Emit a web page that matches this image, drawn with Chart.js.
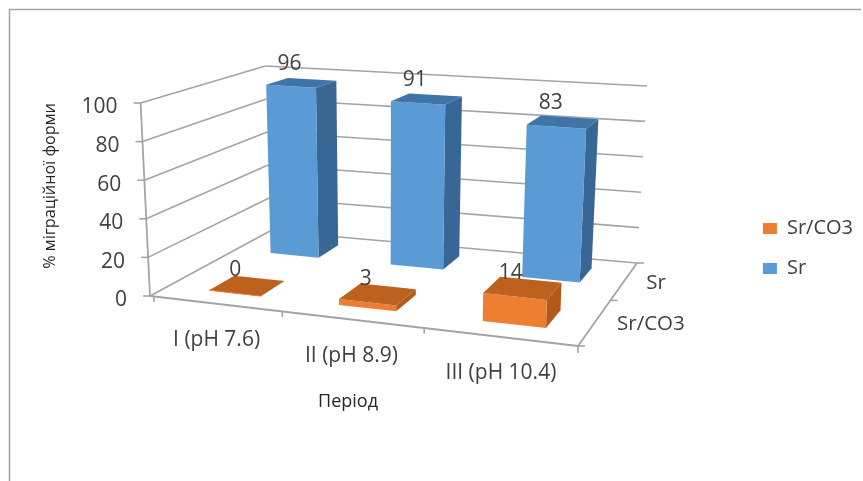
<!DOCTYPE html>
<html lang="uk">
<head>
<meta charset="utf-8">
<title>% міграційної форми</title>
<script src="https://cdn.jsdelivr.net/npm/chart.js@4"></script>
<style>
  html, body { margin: 0; padding: 0; background: #fff; }
  #wrap { position: relative; width: 863px; height: 481px; overflow: hidden; }
  canvas { display: block; }
</style>
</head>
<body>
<div id="wrap"><canvas id="chart" width="863" height="481"></canvas></div>
<script>
// ================= Data =================
const periods = ['I (pH 7.6)', 'II (pH 8.9)', 'III (pH 10.4)'];
const seriesNames = ['Sr/CO3', 'Sr'];
const srCo3Values = [0, 3, 14];
const srValues = [96, 91, 83];
const yTicksMax = 100;
const yTicksStep = 20;
const yTitle = '% міграційної форми';
const xTitle = 'Період';

// ================= Style =================
const FONT = '"Open Sans", sans-serif';
const TEXT = '#404040';
const GRID = '#a4a4a4';
const ORANGE = { front: '#ed7d31', top: '#bd611f', side: '#b3591a' };
const BLUE = { front: '#5b9bd5', top: '#3f74a8', side: '#386795' };

// ================= 3D box: floor corners, wall height at each corner, lean of the verticals =================
const floorQuad = [[150, 296], [578, 346], [637, 263], [270, 231]];
const cornerHeights = [193, 206, 177, 165];
const leanCenterX = 385;
const leanPerPx = 0.04;
const depthShift = [-0.015, 0.025];
const rowShift = [0.012, 0.005];

function makeHomography(q) {
  const [p0, p1, p2, p3] = q;
  const dx1 = p1[0] - p2[0], dx2 = p3[0] - p2[0], sx = p0[0] - p1[0] + p2[0] - p3[0];
  const dy1 = p1[1] - p2[1], dy2 = p3[1] - p2[1], sy = p0[1] - p1[1] + p2[1] - p3[1];
  const det = dx1 * dy2 - dx2 * dy1;
  const g = (sx * dy2 - dx2 * sy) / det;
  const h = (dx1 * sy - sx * dy1) / det;
  const a = p1[0] - p0[0] + g * p1[0], b = p3[0] - p0[0] + h * p3[0];
  const d = p1[1] - p0[1] + g * p1[1], e = p3[1] - p0[1] + h * p3[1];
  return (u, v) => {
    const w = g * u + h * v + 1;
    return [(a * u + b * v + p0[0]) / w, (d * u + e * v + p0[1]) / w];
  };
}
const floorH = makeHomography(floorQuad);

// u: along categories, v: depth (0 front, 1 back), t: height (0 floor, 1 axis max)
function project(u, v, t) {
  const p = floorH(u, v);
  const [h0, h1, h2, h3] = cornerHeights;
  const front = h0 + (h1 - h0) * u, back = h3 + (h2 - h3) * u;
  const height = front + (back - front) * v;
  return [p[0] + (p[0] - leanCenterX) * leanPerPx * t, p[1] - height * t];
}

function poly(ctx, pts, fill) {
  ctx.beginPath();
  pts.forEach((p, i) => i ? ctx.lineTo(p[0], p[1]) : ctx.moveTo(p[0], p[1]));
  ctx.closePath();
  ctx.fillStyle = fill;
  ctx.fill();
}

function seg(ctx, a, b, color, width) {
  ctx.beginPath();
  ctx.moveTo(a[0], a[1]);
  ctx.lineTo(b[0], b[1]);
  ctx.strokeStyle = color;
  ctx.lineWidth = width;
  ctx.stroke();
}

function text(ctx, str, x, y, size, align, color) {
  ctx.font = size + 'px ' + FONT;
  ctx.fillStyle = color || TEXT;
  ctx.textAlign = align || 'center';
  ctx.textBaseline = 'middle';
  ctx.fillText(str, x, y);
}

function depthCenter(d) {
  return (d + 0.5) / seriesNames.length + depthShift[d];
}

// ================= Walls, axes and bars, all placed from the chart's own scales =================
const box3d = {
  id: 'box3d',
  beforeDatasetsDraw(chart) {
    const { ctx, chartArea, scales } = chart;
    const area = chartArea;
    ctx.save();
    ctx.lineCap = 'butt';

    // outer frame of the picture
    seg(ctx, [9.5, 9.5], [9.5, 481], '#a3a3a3', 1.5);
    seg(ctx, [9, 9.5], [861, 9.5], '#a3a3a3', 1.5);

    // value gridlines on side and back wall
    scales.y.ticks.forEach(tick => {
      const t = (area.bottom - scales.y.getPixelForValue(tick.value)) / area.height;
      const fl = project(0, 0, t), bl = project(0, 1, t), br = project(1, 1, t);
      seg(ctx, fl, bl, GRID, 1.6);
      seg(ctx, bl, br, GRID, 1.6);
      seg(ctx, [fl[0] - 7, fl[1]], fl, GRID, 1.6);
      text(ctx, String(tick.value), fl[0] - 23, fl[1] + 4.5, 21, 'right');
    });

    // floor edges
    seg(ctx, project(0, 0, 0), project(0, 0, 1), GRID, 1.8);
    seg(ctx, project(0, 0, 0), project(1, 0, 0), GRID, 1.8);
    seg(ctx, project(1, 0, 0), project(1, 1, 0), GRID, 1.8);

    // category ticks on the front edge
    periods.forEach((p, i) => {
      const a = project(i / periods.length, 0, 0);
      seg(ctx, [a[0] + 4, a[1]], [a[0] + 4, a[1] + 6], GRID, 1.6);
    });
    const fr = project(1, 0, 0);
    seg(ctx, fr, [fr[0], fr[1] + 7], GRID, 1.6);

    // depth ticks on the right edge
    for (let d = 0; d <= seriesNames.length; d++) {
      const a = project(1, d / seriesNames.length, 0);
      seg(ctx, a, [a[0] + 7, a[1]], GRID, 1.6);
    }

    // bars, back row first, each from the element Chart.js computed
    const labels = [];
    const order = chart.data.datasets.map((ds, i) => i).reverse();
    order.forEach(dsIndex => {
      const ds = chart.data.datasets[dsIndex];
      const meta = chart.getDatasetMeta(dsIndex);
      const vc = depthCenter(ds.depth);
      const v0 = vc - 0.1, v1 = vc + 0.1;
      meta.data.forEach((el, i) => {
        const u0 = (el.x - el.width / 2 - area.left) / area.width + rowShift[ds.depth];
        const u1 = (el.x + el.width / 2 - area.left) / area.width + rowShift[ds.depth];
        const t = (area.bottom - el.y) / area.height;
        const c = ds.faces;
        const A = project(u0, v0, t), B = project(u1, v0, t);
        const C = project(u1, v1, t), D = project(u0, v1, t);
        const a0 = project(u0, v0, 0), b0 = project(u1, v0, 0), c0 = project(u1, v1, 0);
        poly(ctx, [B, C, c0, b0], c.side);
        poly(ctx, [A, B, b0, a0], c.front);
        poly(ctx, [A, B, C, D], c.top);
        if (t === 0) seg(ctx, A, B, c.front, 1);
        const mid = project((u0 + u1) / 2, vc, t);
        labels.push([String(ds.data[i]), mid[0] - 12, mid[1] - (13.6 + 7 * vc)]);
      });
    });

    // value labels above the bars
    labels.forEach(l => text(ctx, l[0], l[1], l[2], 21));

    // category labels under the front edge
    periods.forEach((p, i) => {
      const u = (scales.x.getPixelForValue(i) - area.left) / area.width;
      const a = project(u, 0, 0);
      text(ctx, p, a[0] + 4, a[1] + 36.5, 21);
    });

    // series labels next to the right edge
    seriesNames.forEach((s, d) => {
      const a = project(1, (d + 0.5) / seriesNames.length, 0);
      text(ctx, s, a[0] + 22, a[1] + 2, 20.5, 'left');
    });

    // axis titles
    text(ctx, xTitle, 348, 402, 18, 'center', '#262626');
    ctx.save();
    ctx.translate(50, 186);
    ctx.rotate(-Math.PI / 2);
    text(ctx, yTitle, 0, 0, 16.2, 'center', '#262626');
    ctx.restore();

    ctx.restore();
    return false; // the flat bars are replaced by the faces above
  }
};

// ================= Chart =================
new Chart(document.getElementById('chart'), {
  type: 'bar',
  data: {
    labels: periods,
    datasets: [
      { label: seriesNames[0], data: srCo3Values, depth: 0, faces: ORANGE, backgroundColor: ORANGE.front },
      { label: seriesNames[1], data: srValues, depth: 1, faces: BLUE, backgroundColor: BLUE.front }
    ]
  },
  options: {
    responsive: false,
    animation: false,
    layout: { padding: { top: 16, right: 0 } },
    datasets: { bar: { grouped: false, barPercentage: 0.41, categoryPercentage: 1, borderWidth: 0 } },
    scales: {
      x: { display: false, offset: true },
      y: { display: false, min: 0, max: yTicksMax, ticks: { stepSize: yTicksStep } }
    },
    plugins: {
      tooltip: { enabled: false },
      legend: {
        position: 'right',
        labels: {
          boxWidth: 14,
          boxHeight: 11,
          padding: 20,
          color: TEXT,
          font: { family: '"Open Sans", sans-serif', size: 20 }
        }
      }
    }
  },
  plugins: [box3d]
});
</script>
</body>
</html>
